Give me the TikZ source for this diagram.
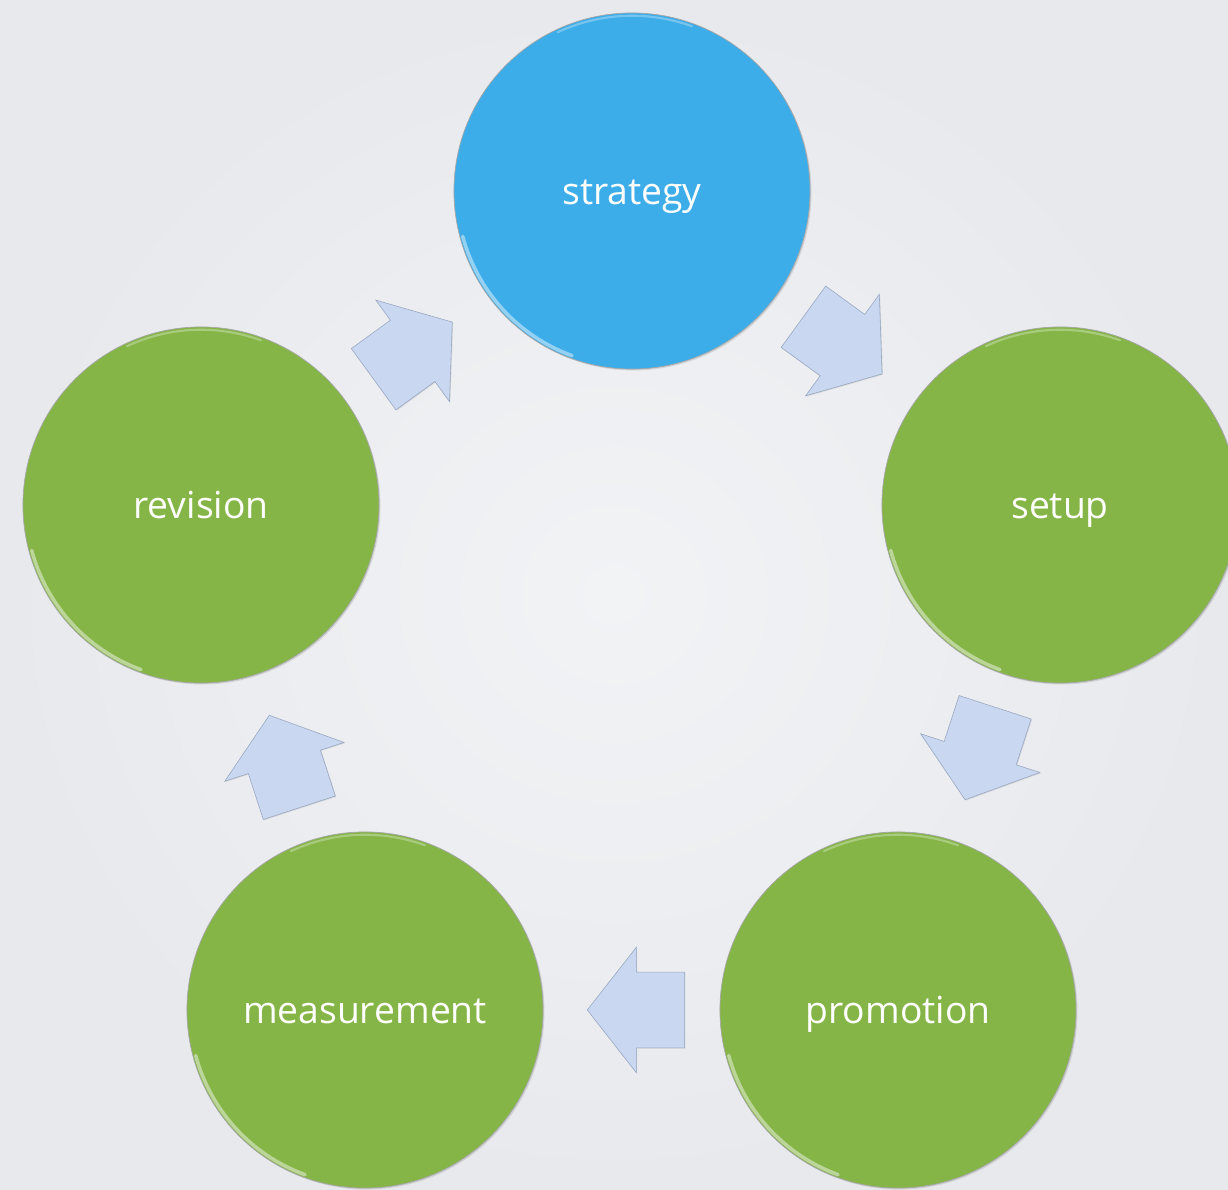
\documentclass[tikz,border=0pt]{standalone}
\usepackage{fontspec}
\setmainfont{Open Sans}
\usetikzlibrary{
    shapes.arrows,
    shadows,
    calc
}
\definecolor{stagegreen}{RGB}{133,181,71}
\definecolor{stageblue}{RGB}{61,173,233}
\definecolor{flowfill}{RGB}{201,216,240}
\definecolor{flowline}{RGB}{150,166,192}
\definecolor{bgouter}{RGB}{232,233,237}
\definecolor{bginner}{RGB}{242,243,245}
\tikzset{
    stage/.style={circle, minimum size=8.9cm, inner sep=0pt, text=white,
        font=\fontsize{26.5}{30}\selectfont, text height=19pt, text depth=0pt,
        draw=black!35, line width=0.5pt,
        drop shadow={shadow xshift=1pt, shadow yshift=-1pt, opacity=0.25}},
    flow/.style={single arrow, anchor=tail, minimum height=2.43cm, inner xsep=0pt, inner ysep=0.94cm,
        single arrow head extend=0.62cm, single arrow tip angle=104,
        fill=flowfill, draw=flowline, line width=0.4pt,
        drop shadow={shadow xshift=0.6pt, shadow yshift=-0.6pt, opacity=0.2}},
    rim/.style={line width=2.5pt, white, opacity=0.45, line cap=round}
}
\begin{document}
\begin{tikzpicture}[x=0.025cm, y=0.025cm]
    \useasboundingbox (0, 0) rectangle (1228, 1189);
    \shade[inner color=bginner, outer color=bgouter] (0, 0) rectangle (1228, 1189);

    % the five stages
    \node[stage, fill=stageblue] (strategy) at (632, 998) {strategy};
    \node[stage, fill=stagegreen] (setup) at (1060, 684) {setup};
    \node[stage, fill=stagegreen] (promotion) at (898, 179) {promotion};
    \node[stage, fill=stagegreen] (measurement) at (365, 179) {measurement};
    \node[stage, fill=stagegreen] (revision) at (201, 684) {revision};

    % glossy rims
    \foreach \n in {strategy, setup, promotion, measurement, revision} {
        \draw[rim] ([shift={(195:4.38cm)}]\n.center) arc[start angle=195, end angle=250, radius=4.38cm];
        \draw[rim, opacity=0.3, line width=1.5pt] ([shift={(70:4.38cm)}]\n.center) arc[start angle=70, end angle=115, radius=4.38cm];
    }

    % arrows between stages
    \node[flow, rotate=36] (a1) at ($(revision)!0.4!(strategy)$) {};
    \node[flow, rotate=-36] (a2) at ($(strategy)!0.4!(setup)$) {};
    \node[flow, rotate=-108] (a3) at ($(setup)!0.4!(promotion)$) {};
    \node[flow, rotate=180] (a4) at ($(promotion)!0.4!(measurement)$) {};
    \node[flow, rotate=108] (a5) at ($(measurement)!0.4!(revision)$) {};
\end{tikzpicture}
\end{document}
